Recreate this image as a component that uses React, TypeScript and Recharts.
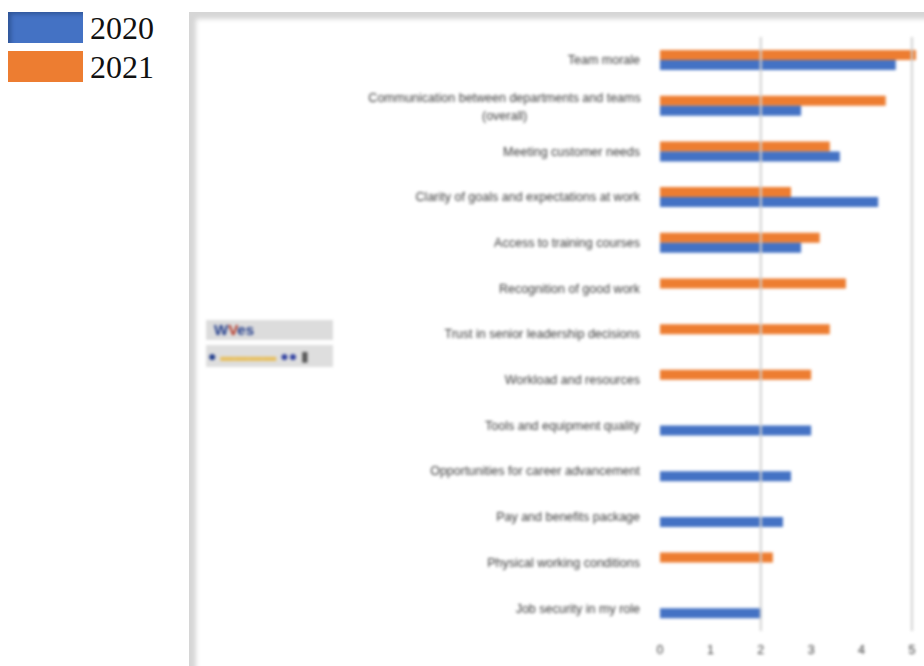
import { BarChart, Bar, XAxis, YAxis, ReferenceLine } from 'recharts';

// Survey topics, top to bottom
const topics = [
  'Team morale',
  'Communication between departments and teams\n(overall)',
  'Meeting customer needs',
  'Clarity of goals and expectations at work',
  'Access to training courses',
  'Recognition of good work',
  'Trust in senior leadership decisions',
  'Workload and resources',
  'Tools and equipment quality',
  'Opportunities for career advancement',
  'Pay and benefits package',
  'Physical working conditions',
  'Job security in my role',
];

// Average scores (0-5); null where the topic was not asked that year
const scores2020 = [4.68, 2.8, 3.57, 4.33, 2.8, null, null, null, 3.0, 2.6, 2.44, null, 2.02];
const scores2021 = [5.08, 4.48, 3.37, 2.6, 3.17, 3.69, 3.37, 3.0, null, null, null, 2.24, null];

const scoreTicks = [0, 1, 2, 3, 4, 5];

const BLUE = '#4472C4';
const ORANGE = '#ED7D31';
const LABEL = '#3a3a3a';

const data = topics.map((topic, i) => ({
  topic,
  y2020: scores2020[i],
  y2021: scores2021[i],
}));

const TopicTick = (props: any) => {
  const { x, y, payload } = props;
  const lines = String(payload.value).split('\n');
  if (lines.length === 1) {
    return (
      <text x={x} y={y} dy="0.35em" textAnchor="end" fill={LABEL} fontSize={12.5}>
        {lines[0]}
      </text>
    );
  }
  // wrapped labels: centre the lines under the widest one
  const approxWidth = Math.max(...lines.map((l) => l.length)) * 6.3;
  const cx = x - approxWidth / 2;
  return (
    <text x={cx} y={y - 8} textAnchor="middle" fill={LABEL} fontSize={12.5}>
      {lines.map((l, i) => (
        <tspan key={i} x={cx} dy={i === 0 ? '0.35em' : 18}>
          {l}
        </tspan>
      ))}
    </text>
  );
};

const LegendBox = ({ color, label, top }: { color: string; label: string; top: number }) => (
  <div style={{ position: 'absolute', left: 8, top, height: 31 }}>
    <div
      style={{
        position: 'absolute',
        left: 0,
        top: 0,
        width: 75,
        height: 31,
        background: color,
        boxShadow: color === BLUE ? 'inset 5px 4px 4px -2px #2f5597' : undefined,
      }}
    />
    <span
      style={{
        position: 'absolute',
        left: 82,
        top: -3,
        fontFamily: '"Liberation Serif", "Times New Roman", serif',
        fontSize: 32,
        lineHeight: '38px',
        color: '#111',
      }}
    >
      {label}
    </span>
  </div>
);

export default function App() {
  return (
    <div
      style={{
        position: 'absolute',
        left: 0,
        top: 0,
        width: 924,
        height: 666,
        overflow: 'hidden',
        background: '#fff',
        fontFamily: 'Arial, "Liberation Sans", sans-serif',
      }}
    >
      <LegendBox color={BLUE} label="2020" top={12} />
      <LegendBox color={ORANGE} label="2021" top={51} />

      {/* frame around the embedded chart */}
      <div
        style={{
          position: 'absolute',
          left: 189,
          top: 12,
          width: 760,
          height: 680,
          background: '#fff',
          boxShadow: 'inset 8px 8px 5px -1px #d6d6d6',
        }}
      />

      {/* small toolbar strip */}
      <div style={{ position: 'absolute', left: 206, top: 320, filter: 'blur(1.4px)' }}>
        <div
          style={{
            width: 127,
            height: 20,
            background: '#dcdcdc',
            fontSize: 15,
            fontWeight: 700,
            lineHeight: '20px',
            paddingLeft: 8,
            boxSizing: 'border-box',
          }}
        >
          <span style={{ color: '#1f3a8a' }}>W</span>
          <span style={{ color: '#b03020' }}>V</span>
          <span style={{ color: '#1f3a8a' }}>e</span>
          <span style={{ color: '#1f3a8a' }}>s</span>
        </div>
        <div
          style={{
            width: 127,
            height: 22,
            marginTop: 5,
            background: '#dedede',
            fontSize: 14,
            lineHeight: '22px',
            paddingLeft: 2,
            boxSizing: 'border-box',
            whiteSpace: 'nowrap',
          }}
        >
          <span style={{ color: '#1f3a8a' }}>●</span>
          <span style={{ color: '#e8c060', fontWeight: 700 }}> ▬▬▬▬ </span>
          <span style={{ color: '#3040a0', fontWeight: 700 }}>●●</span>
          <span style={{ color: '#555' }}>  ▮</span>
        </div>
      </div>

      <div style={{ position: 'absolute', left: 0, top: 0, filter: 'blur(1.5px)' }}>
        <BarChart
          width={924}
          height={666}
          data={data}
          layout="vertical"
          margin={{ top: 37, right: 2, bottom: 5, left: 0 }}
          barSize={10}
          barGap={0}
        >
          <XAxis
            type="number"
            domain={[0, 5.2]}
            ticks={scoreTicks}
            allowDataOverflow
            axisLine={false}
            tickLine={false}
            tickSize={0}
            tickMargin={14}
            height={30}
            tick={{ fill: LABEL, fontSize: 12.5 }}
          />
          <YAxis
            type="category"
            dataKey="topic"
            width={660}
            axisLine={false}
            tickLine={false}
            tickSize={0}
            tickMargin={20}
            interval={0}
            tick={<TopicTick />}
          />
          <ReferenceLine x={2} stroke="#d0d0d0" strokeWidth={2} />
          <ReferenceLine x={5} stroke="#d0d0d0" strokeWidth={2} />
          <Bar dataKey="y2021" name="2021" fill={ORANGE} isAnimationActive={false} />
          <Bar dataKey="y2020" name="2020" fill={BLUE} isAnimationActive={false} />
        </BarChart>
      </div>
    </div>
  );
}
